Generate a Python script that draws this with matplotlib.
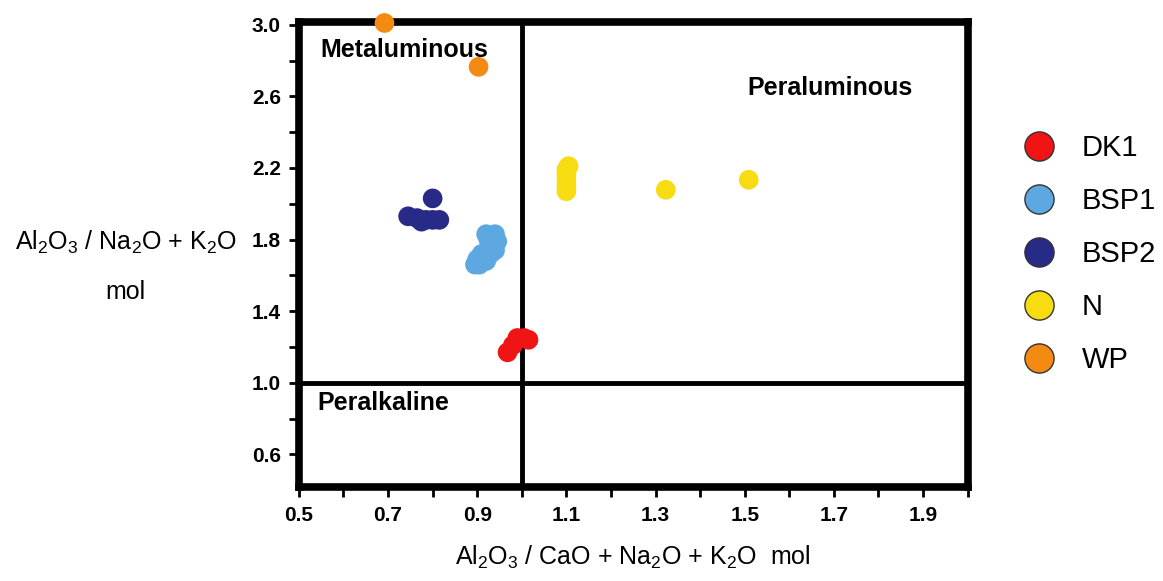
import numpy as np
import matplotlib
matplotlib.use("Agg")
import matplotlib.pyplot as plt
from matplotlib.lines import Line2D

plt.rcParams['font.family'] = ['Liberation Sans', 'DejaVu Sans']
plt.rcParams['mathtext.default'] = 'regular'

# data (x = A/CNK, y = A/NK)
dk1_x = [0.968, 0.98, 0.99, 1.005, 1.015]
dk1_y = [1.17, 1.21, 1.25, 1.25, 1.24]
bsp1_x = [0.92, 0.94, 0.945, 0.93, 0.94, 0.93, 0.91, 0.90, 0.895, 0.905, 0.92, 0.925]
bsp1_y = [1.83, 1.83, 1.79, 1.77, 1.74, 1.72, 1.72, 1.69, 1.66, 1.66, 1.68, 1.80]
bsp2_x = [0.745, 0.765, 0.785, 0.80, 0.815, 0.775, 0.80]
bsp2_y = [1.93, 1.92, 1.91, 1.91, 1.91, 1.90, 2.03]
n_x = [1.10, 1.10, 1.10, 1.10, 1.10, 1.105, 1.323, 1.509]
n_y = [2.07, 2.10, 2.13, 2.16, 2.19, 2.21, 2.078, 2.134]
wp_x = [0.692, 0.903]
wp_y = [3.01, 2.765]

groups = ['DK1', 'BSP1', 'BSP2', 'N', 'WP']
colors = ['#f01414', '#5ea8e2', '#272a86', '#f7dc12', '#f58a12']
xs = [dk1_x, bsp1_x, bsp2_x, n_x, wp_x]
ys = [dk1_y, bsp1_y, bsp2_y, n_y, wp_y]

fig = plt.figure(figsize=(11.63, 5.81), dpi=100)
ax = fig.add_axes([0.257, 0.161, 0.575, 0.801])

ax.axvline(1.0, color='black', lw=3.5, zorder=1)
ax.axhline(1.0, color='black', lw=3.5, zorder=1)

for x, y, c in zip(xs, ys, colors):
    ax.scatter(x, y, s=200, color=c, edgecolors='none', zorder=3, clip_on=False)

ax.set_xlim(0.5, 2.0)
ax.set_ylim(0.415, 3.015)
ax.set_xticks(np.arange(0.5, 1.95, 0.2))
ax.set_xticks(np.arange(0.6, 2.05, 0.2), minor=True)
ax.set_yticks(np.arange(0.6, 3.05, 0.4))
ax.set_yticks(np.arange(0.8, 2.85, 0.4), minor=True)
ax.set_xticklabels([f'{v:.1f}' for v in np.arange(0.5, 1.95, 0.2)])
ax.set_yticklabels([f'{v:.1f}' for v in np.arange(0.6, 3.05, 0.4)])
ax.tick_params(which='both', direction='out', length=7, width=2, color='black')
ax.tick_params(labelsize=15, pad=6)
for lab in ax.get_xticklabels() + ax.get_yticklabels():
    lab.set_fontweight('bold')
for sp in ax.spines.values():
    sp.set_linewidth(5.5)

ax.text(0.549, 2.86, 'Metaluminous', fontsize=18, fontweight='bold', va='center', ha='left')
ax.text(1.507, 2.648, 'Peraluminous', fontsize=18, fontweight='bold', va='center', ha='left')
ax.text(0.542, 0.888, 'Peralkaline', fontsize=18, fontweight='bold', va='center', ha='left')

ax.set_xlabel('Al$_2$O$_3$ / CaO + Na$_2$O + K$_2$O  mol', fontsize=18, labelpad=14)
fig.text(0.108, 0.583, 'Al$_2$O$_3$ / Na$_2$O + K$_2$O', fontsize=18, ha='center', va='center')
fig.text(0.108, 0.497, 'mol', fontsize=18, ha='center', va='center')

handles = [Line2D([], [], ls='none', marker='o', markersize=21, markerfacecolor=c,
                  markeredgecolor='#333333', markeredgewidth=1.0) for c in colors]
fig.legend(handles, groups, loc='upper left', bbox_to_anchor=(0.846, 0.815),
           frameon=False, fontsize=21, labelspacing=0.86, handletextpad=0.45)

fig.savefig('out.png', dpi=100)
